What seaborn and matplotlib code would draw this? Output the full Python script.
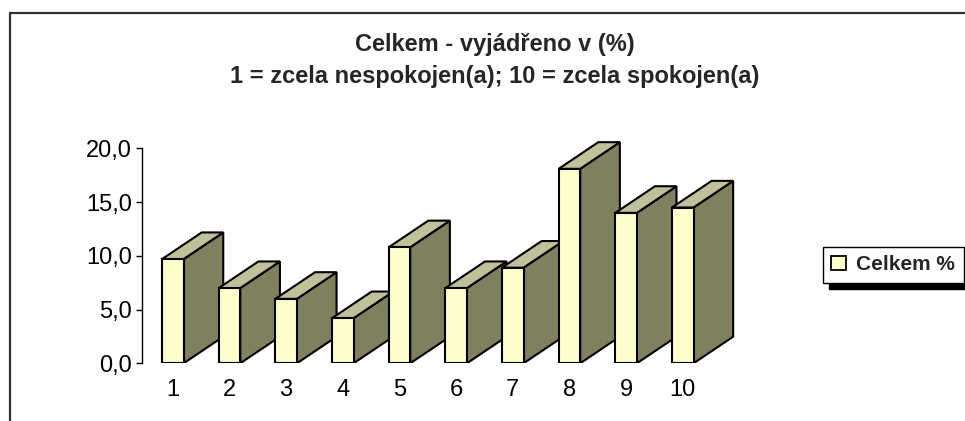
import matplotlib
matplotlib.use("Agg")
import matplotlib.pyplot as plt
from matplotlib.patches import Polygon, Rectangle
from matplotlib.ticker import FuncFormatter
import pandas as pd
import seaborn as sns

# data
categories = ["1", "2", "3", "4", "5", "6", "7", "8", "9", "10"]
celkem_pct = [9.7, 7.0, 6.0, 4.2, 10.8, 7.0, 8.9, 18.1, 14.0, 14.5]
series_name = "Celkem %"
title_lines = ["Celkem - vyjádřeno v (%)", "1 = zcela nespokojen(a); 10 = zcela spokojen(a)"]

FRONT = "#FFFFCC"
TOP = "#C0C09A"
SIDE = "#80805F"
BAR_W = 0.38
DEPTH_X = 0.70   # depth offset in category units
DEPTH_Y = 2.48   # depth offset in value units

sns.set_style("white")
plt.rcParams["font.family"] = ["Liberation Sans", "DejaVu Sans"]

df = pd.DataFrame({"kat": categories, "pct": celkem_pct})

fig = plt.figure(figsize=(9.65, 4.21), dpi=100)
ax = fig.add_axes([0.1468, 0.137, 0.62, 0.536])

sns.barplot(data=df, x="kat", y="pct", color=FRONT, width=BAR_W, saturation=1,
            edgecolor="black", linewidth=1.5, label=series_name, ax=ax)

# fake 3D: top and side faces behind each front face
for i, p in enumerate(ax.patches):
    x0 = p.get_x()
    x1 = x0 + p.get_width()
    h = p.get_height()
    side = Polygon([(x1, 0), (x1 + DEPTH_X, DEPTH_Y), (x1 + DEPTH_X, h + DEPTH_Y), (x1, h)],
                   closed=True, facecolor=SIDE, edgecolor="black", lw=1.5, zorder=3 * i + 1)
    top = Polygon([(x0, h), (x0 + DEPTH_X, h + DEPTH_Y), (x1 + DEPTH_X, h + DEPTH_Y), (x1, h)],
                  closed=True, facecolor=TOP, edgecolor="black", lw=1.5, zorder=3 * i + 1)
    ax.add_patch(side)
    ax.add_patch(top)
    p.set_zorder(3 * i + 2)

ax.set_xlim(-0.55, 10.01)
ax.set_ylim(0, 21)
ax.set_yticks([0, 5, 10, 15, 20])
ax.yaxis.set_major_formatter(FuncFormatter(lambda v, _: f"{v:.1f}".replace(".", ",")))
ax.set_xlabel("")
ax.set_ylabel("")

for s in ["top", "right", "bottom"]:
    ax.spines[s].set_visible(False)
ax.spines["left"].set_color("black")
ax.spines["left"].set_linewidth(1)
ax.spines["left"].set_bounds(0, 20)
ax.tick_params(axis="y", left=True, direction="out", length=4, width=1, pad=3,
               labelsize=17, colors="black")
ax.tick_params(axis="x", bottom=False, pad=8, labelsize=17, colors="black")

leg = ax.legend(loc="upper left", bbox_to_anchor=(823 / 965, 1 - 247 / 421),
                bbox_transform=fig.transFigure, frameon=True, fancybox=False,
                shadow={"ox": 4, "oy": -4.5, "color": "black", "alpha": 1},
                prop={"weight": "bold", "size": 15}, handlelength=0.7, handleheight=0.7,
                handletextpad=0.5, borderpad=0.4, borderaxespad=0)
leg.get_frame().set_edgecolor("black")
leg.get_frame().set_linewidth(1)
for h in leg.legend_handles:
    h.set_linewidth(1.3)

fig.text(0.513, 1 - 60 / 421, "\n".join(title_lines), ha="center", va="center",
         fontsize=17, fontweight="bold", linespacing=1.5)

# chart area border (left and top edges visible in the reference)
fig.add_artist(Rectangle((9.5 / 965, -0.1), 1.2, 1.1 - 13 / 421, transform=fig.transFigure,
                         fill=False, edgecolor="#333333", lw=1.6))

fig.savefig("out.png", dpi=100)
